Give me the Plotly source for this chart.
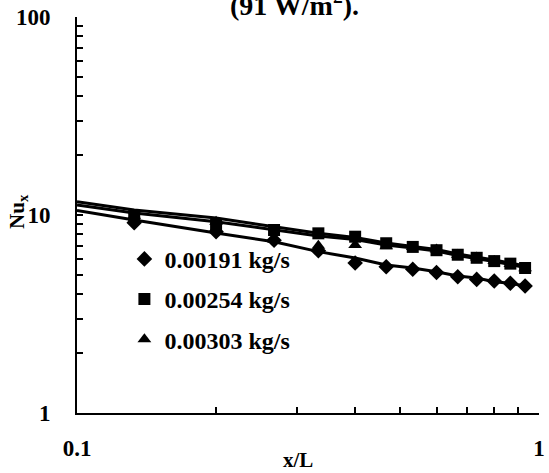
import plotly.graph_objects as go

# Axial positions of the measurement stations (x/L)
x_pts = [0.133, 0.2, 0.267, 0.333, 0.4, 0.467, 0.533, 0.6, 0.667, 0.733, 0.8, 0.867, 0.933]

# Measured local Nusselt numbers for each mass flow rate
nu_191 = [9.15, 8.24, 7.45, 6.6, 5.72, 5.48, 5.32, 5.12, 4.88, 4.73, 4.64, 4.52, 4.38]
nu_254 = [9.9, 8.9, 8.4, 8.08, 7.77, 7.2, 6.9, 6.64, 6.3, 6.08, 5.85, 5.68, 5.40]
nu_303 = [9.9, 9.25, 7.5, 7.0, 7.06, 6.95, 6.9, 6.7, 6.3, 6.1, 5.85, 5.66, 5.38]

# Predicted curves (x/L from the inlet up to the last station)
x_line = [0.1] + x_pts
line_191 = [10.55, 9.43, 8.11, 7.33, 6.53, 6.07, 5.59, 5.40, 5.17, 4.92, 4.81, 4.60, 4.52, 4.38]
line_254 = [11.67, 10.60, 9.66, 8.73, 8.08, 7.70, 7.22, 6.93, 6.69, 6.35, 6.14, 5.92, 5.72, 5.53]
line_303 = [11.23, 10.23, 9.25, 8.45, 7.83, 7.52, 7.06, 6.81, 6.58, 6.24, 6.03, 5.82, 5.62, 5.43]

series_names = ["0.00191 kg/s", "0.00254 kg/s", "0.00303 kg/s"]
symbols = ["diamond", "square", "triangle-up"]

x_tickvals = [0.1, 0.2, 0.3, 0.4, 0.5, 0.6, 0.7, 0.8, 0.9, 1]
x_ticktext = ["0.1", "", "", "", "", "", "", "", "", "1"]
y_tickvals = [1, 2, 3, 4, 5, 6, 7, 8, 9, 10, 20, 30, 40, 50, 60, 70, 80, 90, 100]
y_ticktext = ["1"] + [""] * 8 + ["10"] + [""] * 8 + ["100"]

FONT = "Liberation Serif"

fig = go.Figure()

for yl in (line_191, line_254, line_303):
    fig.add_trace(go.Scatter(
        x=x_line, y=yl, mode="lines",
        line=dict(color="black", width=3),
        showlegend=False, hoverinfo="skip",
    ))

for name, sym, yv in zip(series_names, symbols, (nu_191, nu_254, nu_303)):
    fig.add_trace(go.Scatter(
        x=x_pts, y=yv, mode="markers", name=name, legendgroup=name,
        marker=dict(symbol=sym, size=12, color="black"),
    ))

axis_common = dict(
    type="log", showgrid=False, zeroline=False,
    showline=True, linecolor="black", linewidth=2,
    ticks="inside", ticklen=6, tickwidth=1.5, tickcolor="black",
    tickmode="array", mirror=False, ticklabeloverflow="allow",
    tickfont=dict(family=FONT, size=23, color="black", weight="bold"),
)

fig.update_xaxes(axis_common, range=[-1, 0], tickvals=x_tickvals, ticktext=x_ticktext,
                 ticklabelstandoff=13)
fig.update_yaxes(axis_common, range=[0, 2], tickvals=y_tickvals, ticktext=y_ticktext,
                 ticklabelstandoff=20)

fig.add_annotation(
    text="x/L", xref="paper", yref="paper", x=0.4786, y=-0.119,
    xanchor="center", yanchor="middle", showarrow=False,
    font=dict(family=FONT, size=21, color="black", weight="bold"),
)
fig.add_annotation(
    text="Nu<sub>x</sub>", xref="paper", yref="paper", x=-0.128, y=0.51,
    xanchor="center", yanchor="middle", showarrow=False, textangle=-90,
    font=dict(family=FONT, size=21, color="black", weight="bold"),
)
fig.add_annotation(
    text="(91 W/m<sup>2</sup>).", xref="paper", yref="paper", x=0.47, y=0.985,
    xanchor="center", yanchor="bottom", showarrow=False,
    font=dict(family=FONT, size=28, color="black", weight="bold"),
)

fig.update_layout(
    width=549, height=473,
    margin=dict(l=77, r=4, t=17, b=60),
    paper_bgcolor="white", plot_bgcolor="white",
    legend=dict(
        x=0.1026, y=0.445, xanchor="left", yanchor="top",
        bgcolor="rgba(0,0,0,0)", traceorder="grouped", tracegroupgap=6,
        font=dict(family=FONT, size=24, color="black", weight="bold"),
    ),
)

fig.write_html("out.html")
